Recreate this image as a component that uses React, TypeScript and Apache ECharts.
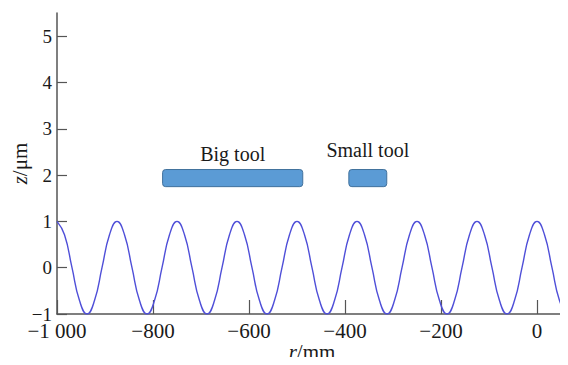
import React, { useEffect, useRef } from "react";
import * as echarts from "echarts";

const rValues = [
  -1000, -984.375, -968.75, -953.125, -937.5, -921.875, -906.25, -890.625,
  -875, -859.375, -843.75, -828.125, -812.5, -796.875, -781.25, -765.625,
  -750, -734.375, -718.75, -703.125, -687.5, -671.875, -656.25, -640.625,
  -625, -609.375, -593.75, -578.125, -562.5, -546.875, -531.25, -515.625,
  -500, -484.375, -468.75, -453.125, -437.5, -421.875, -406.25, -390.625,
  -375, -359.375, -343.75, -328.125, -312.5, -296.875, -281.25, -265.625,
  -250, -234.375, -218.75, -203.125, -187.5, -171.875, -156.25, -140.625,
  -125, -109.375, -93.75, -78.125, -62.5, -46.875, -31.25, -15.625,
  0, 15.625, 31.25, 46.875, 62.5,
];
const zValues = [
  1, 0.71, 0, -0.71, -1, -0.71, 0, 0.71,
  1, 0.71, 0, -0.71, -1, -0.71, 0, 0.71,
  1, 0.71, 0, -0.71, -1, -0.71, 0, 0.71,
  1, 0.71, 0, -0.71, -1, -0.71, 0, 0.71,
  1, 0.71, 0, -0.71, -1, -0.71, 0, 0.71,
  1, 0.71, 0, -0.71, -1, -0.71, 0, 0.71,
  1, 0.71, 0, -0.71, -1, -0.71, 0, 0.71,
  1, 0.71, 0, -0.71, -1, -0.71, 0, 0.71,
  1, 0.71, 0, -0.71, -1,
];

const toolNames = ["Big tool", "Small tool"];
const toolStart = [-780, -392];
const toolEnd = [-488, -313];
const toolLow = [1.75, 1.75];
const toolHigh = [2.12, 2.12];
const toolLabelLift = [16, 20];

const xTicks = [-1000, -800, -600, -400, -200, 0];
const yTicks = [-1, 0, 1, 2, 3, 4, 5];

const FONT = "'Liberation Serif', 'Times New Roman', serif";

function fmtX(v: number): string {
  const a = Math.abs(v);
  let s = String(a);
  if (a >= 1000) s = s.slice(0, s.length - 3) + " " + s.slice(s.length - 3);
  return (v < 0 ? "\u2212" : "") + s;
}
function fmtY(v: number): string {
  return (v < 0 ? "\u2212" : "") + Math.abs(v);
}

export default function App() {
  const ref = useRef<HTMLDivElement>(null);
  useEffect(() => {
    if (!ref.current) return;
    const chart = echarts.init(ref.current, null, { renderer: "svg" });
    const wave = rValues.map((r, i) => [r, zValues[i]]);
    const tools = toolNames.map((n, i) => [toolStart[i], toolEnd[i], toolLow[i], toolHigh[i], i]);
    chart.setOption({
      animation: false,
      backgroundColor: "#ffffff",
      grid: { left: 57, right: 1, top: 13, bottom: 51, containLabel: false, outerBoundsMode: "none" },
      xAxis: {
        type: "value",
        min: -1000,
        max: 62.5,
        interval: 200,
        name: "{i|r}/mm",
        nameLocation: "middle",
        nameGap: 27,
        nameMoveOverlap: false,
        nameTextStyle: {
          fontFamily: FONT,
          fontSize: 21,
          lineHeight: 22,
          color: "#1a1a1a",
          rich: { i: { fontFamily: FONT, fontSize: 21, lineHeight: 22, fontStyle: "italic", color: "#1a1a1a" } },
        },
        axisLine: { show: true, onZero: false, lineStyle: { color: "#555", width: 1.5 } },
        axisTick: { show: true, inside: true, length: 14, customValues: xTicks, lineStyle: { color: "#555", width: 1.2 } },
        axisLabel: {
          customValues: xTicks,
          formatter: (v: number) => fmtX(v),
          fontFamily: FONT,
          fontSize: 21,
          lineHeight: 16,
          color: "#1a1a1a",
          margin: 9,
        },
        splitLine: { show: false },
      },
      yAxis: {
        type: "value",
        min: -1,
        max: 5.5,
        interval: 1,
        name: "{i|z}/\u03bcm",
        nameLocation: "middle",
        nameGap: 26,
        nameRotate: 90,
        nameMoveOverlap: false,
        nameTextStyle: {
          fontFamily: FONT,
          fontSize: 21,
          lineHeight: 22,
          color: "#1a1a1a",
          rich: { i: { fontFamily: FONT, fontSize: 21, lineHeight: 22, fontStyle: "italic", color: "#1a1a1a" } },
        },
        axisLine: { show: true, onZero: false, lineStyle: { color: "#555", width: 1.5 } },
        axisTick: { show: true, inside: true, length: 10, customValues: yTicks, lineStyle: { color: "#555", width: 1.2 } },
        axisLabel: {
          customValues: yTicks,
          formatter: (v: number) => fmtY(v),
          fontFamily: FONT,
          fontSize: 19,
          lineHeight: 14,
          color: "#1a1a1a",
          margin: 5,
        },
        splitLine: { show: false },
      },
      series: [
        {
          type: "line",
          data: wave,
          smooth: 0.5,
          showSymbol: false,
          lineStyle: { color: "#4f4fd8", width: 1.4 },
          z: 3,
        },
        {
          type: "custom",
          data: tools,
          z: 4,
          renderItem: (params: any, api: any) => {
            const p0 = api.coord([api.value(0), api.value(3)]);
            const p1 = api.coord([api.value(1), api.value(2)]);
            const idx = api.value(4);
            return {
              type: "group",
              children: [
                {
                  type: "rect",
                  shape: { x: p0[0], y: p0[1], width: p1[0] - p0[0], height: p1[1] - p0[1], r: 3 },
                  style: { fill: "#5b9bd5", stroke: "#41719c", lineWidth: 1 },
                },
                {
                  type: "text",
                  x: (p0[0] + p1[0]) / 2,
                  y: p0[1] - toolLabelLift[idx],
                  style: {
                    text: toolNames[idx],
                    fontFamily: FONT,
                    fontSize: 20,
                    fill: "#1a1a1a",
                    align: "center",
                    verticalAlign: "middle",
                  },
                },
              ],
            };
          },
        },
      ],
    });
    return () => chart.dispose();
  }, []);
  return <div ref={ref} style={{ width: 568, height: 365, margin: -8 }} />;
}
